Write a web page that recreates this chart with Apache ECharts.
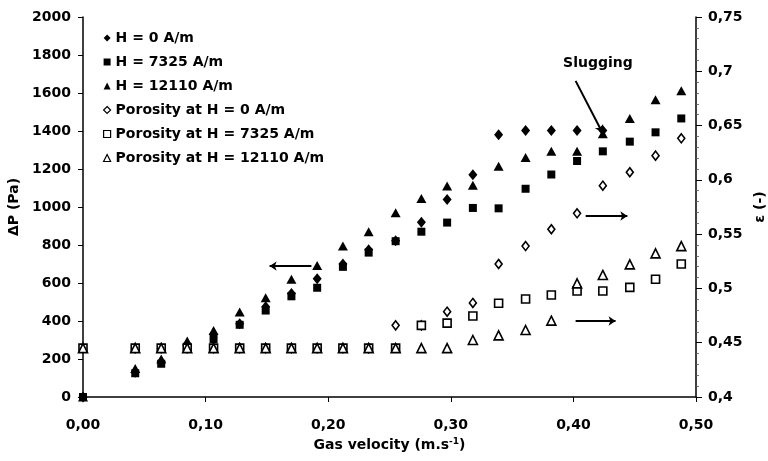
<!DOCTYPE html>
<html>
<head>
<meta charset="utf-8">
<script src="https://cdn.jsdelivr.net/npm/echarts@6/dist/echarts.min.js"></script>
<style>
  html, body { margin: 0; padding: 0; background: #fff; }
  #chart { width: 768px; height: 461px; }
</style>
</head>
<body>
<div id="chart"></div>
<script>
// gas velocity (m/s), shared by all series
var velocity = [0, 0.0426, 0.0638, 0.085, 0.1065, 0.1278, 0.149, 0.170, 0.191, 0.212, 0.233, 0.255,
                0.276, 0.297, 0.318, 0.339, 0.361, 0.382, 0.403, 0.424, 0.446, 0.467, 0.488];

// pressure drop (Pa)
var dpH0     = [0, 130, 185, 275, 330, 385, 475, 545, 622, 700, 775, 822, 920, 1040, 1170, 1380, 1402, 1402, 1402, 1402];
var dpH7325  = [0, 125, 175, 265, 305, 380, 455, 530, 575, 685, 760, 820, 870, 918, 995, 993, 1096, 1171, 1242, 1293, 1344, 1393, 1466];
var dpH12110 = [0, 150, 200, 295, 350, 448, 522, 620, 692, 795, 870, 970, 1045, 1110, 1115, 1215, 1261, 1293, 1293, 1385, 1466, 1564, 1612];

// porosity (-)
var epsH0     = [0.445, 0.445, 0.445, 0.445, 0.445, 0.445, 0.445, 0.445, 0.445, 0.445, 0.445, 0.466,
                 0.466, 0.4786, 0.4866, 0.5225, 0.539, 0.5545, 0.5692, 0.5946, 0.607, 0.6223, 0.6383];
var epsH7325  = [0.445, 0.445, 0.445, 0.445, 0.445, 0.445, 0.445, 0.445, 0.445, 0.445, 0.445, 0.445,
                 0.466, 0.468, 0.4746, 0.4863, 0.4903, 0.494, 0.4976, 0.4976, 0.501, 0.5084, 0.5225];
var epsH12110 = [0.445, 0.445, 0.445, 0.445, 0.445, 0.445, 0.445, 0.445, 0.445, 0.445, 0.445, 0.445,
                 0.445, 0.445, 0.4525, 0.4568, 0.4617, 0.4703, 0.5047, 0.5124, 0.5222, 0.5323, 0.539];

var names = ['H = 0 A/m', 'H = 7325 A/m', 'H = 12110 A/m',
             'Porosity at H = 0 A/m', 'Porosity at H = 7325 A/m', 'Porosity at H = 12110 A/m'];

// annotations in data units: [x1, y1, x2, y2]
var arrowLeft   = [0.1863, 689, 0.1522, 689];          // points to left axis
var arrowsRight = [[0.410, 0.5667, 0.444, 0.5667],     // point to right axis
                   [0.4018, 0.470, 0.4344, 0.470]];
var slugLine    = [0.4018, 1664, 0.4235, 1393];
var slugText    = [0.42, 1758];

var FONT = 'DejaVu Sans';

function pairs(ys) {
    return ys.map(function (y, i) { return [velocity[i], y]; });
}
function comma(v, d) {
    return String(parseFloat(v.toFixed(d))).replace('.', ',');
}

function filled(name, data, symbol, size) {
    return {
        name: name, type: 'scatter', yAxisIndex: 0,
        symbol: symbol, symbolSize: size,
        itemStyle: { color: '#000', opacity: 1 },
        data: pairs(data)
    };
}
function hollow(name, data, symbol, size) {
    return {
        name: name, type: 'scatter', yAxisIndex: 1,
        symbol: symbol, symbolSize: size,
        itemStyle: { color: '#fff', borderColor: '#000', borderWidth: 1.6, opacity: 1 },
        data: pairs(data)
    };
}
function seg(a) {
    return [{ coord: [a[0], a[1]] }, { coord: [a[2], a[3]] }];
}

var chart = echarts.init(document.getElementById('chart'));

var tickLabel = { color: '#000', fontFamily: FONT, fontWeight: 'bold', fontSize: 14 };
var axisLine = { show: true, lineStyle: { color: '#000', width: 1.5 } };
var arrowLine = {
    silent: true, animation: false,
    symbol: ['none', 'arrow'], symbolSize: 7,
    label: { show: false },
    emphasis: { disabled: true },
    lineStyle: { color: '#000', width: 2, type: 'solid', opacity: 1 }
};

var option = {
    animation: false,
    textStyle: { fontFamily: FONT },
    grid: { left: 83, right: 72, top: 17, bottom: 64, containLabel: false, outerBoundsMode: 'none' },
    legend: {
        data: names,
        orient: 'vertical',
        left: 98,
        top: 26,
        itemGap: 10,
        itemWidth: 7,
        itemHeight: 7,
        itemStyle: { borderWidth: 1.2 },
        textStyle: { color: '#000', fontFamily: FONT, fontWeight: 'bold', fontSize: 14, lineHeight: 14 }
    },
    xAxis: {
        type: 'value',
        min: 0, max: 0.5, interval: 0.1,
        name: 'Gas velocity (m.s{sup|-1})',
        nameLocation: 'middle',
        nameGap: 40,
        nameTextStyle: {
            color: '#000', fontFamily: FONT, fontWeight: 'bold', fontSize: 14,
            rich: { sup: { fontFamily: FONT, fontWeight: 'bold', fontSize: 9, verticalAlign: 'top', padding: [0, 0, 8, 0] } }
        },
        axisLine: axisLine,
        axisTick: { show: true, length: 5, lineStyle: { color: '#000', width: 1 } },
        axisLabel: Object.assign({ margin: 21, formatter: function (v) { return v.toFixed(2).replace('.', ','); } }, tickLabel),
        splitLine: { show: false }
    },
    yAxis: [{
        type: 'value',
        min: 0, max: 2000, interval: 200,
        name: 'ΔP (Pa)',
        nameLocation: 'middle',
        nameRotate: 90,
        nameGap: 58,
        nameTextStyle: { color: '#000', fontFamily: FONT, fontWeight: 'bold', fontSize: 14 },
        axisLine: axisLine,
        axisTick: { show: true, length: 5, lineStyle: { color: '#000', width: 1 } },
        axisLabel: Object.assign({ margin: 12, formatter: function (v) { return String(v); } }, tickLabel),
        splitLine: { show: false }
    }, {
        type: 'value',
        position: 'right',
        min: 0.4, max: 0.75, interval: 0.05,
        name: 'ε (-)',
        nameLocation: 'middle',
        nameRotate: 90,
        nameGap: 51,
        nameTextStyle: { color: '#000', fontFamily: FONT, fontWeight: 'bold', fontSize: 14 },
        axisLine: axisLine,
        axisTick: { show: true, length: 6, lineStyle: { color: '#000', width: 1 } },
        minorTick: { show: true, splitNumber: 5, length: 3, lineStyle: { color: '#555', width: 0.8 } },
        axisLabel: Object.assign({ margin: 12, formatter: function (v) { return comma(v, 2); } }, tickLabel),
        splitLine: { show: false }
    }],
    series: [
        filled(names[0], dpH0, 'diamond', [9, 11]),
        filled(names[1], dpH7325, 'rect', 8),
        filled(names[2], dpH12110, 'triangle', [10, 9]),
        hollow(names[3], epsH0, 'diamond', [7, 9]),
        hollow(names[4], epsH7325, 'rect', 8),
        hollow(names[5], epsH12110, 'triangle', [9, 9]),
        {
            name: 'annotLeft', type: 'scatter', yAxisIndex: 0, data: [], silent: true,
            markLine: Object.assign({}, arrowLine, {
                data: [seg(arrowLeft), seg(slugLine)]
            }),
            markPoint: {
                silent: true, symbol: 'circle', symbolSize: 1,
                itemStyle: { color: 'rgba(0,0,0,0)' },
                label: { show: true, position: 'inside', formatter: 'Slugging', color: '#000',
                         fontFamily: FONT, fontWeight: 'bold', fontSize: 14 },
                data: [{ coord: slugText }]
            }
        },
        {
            name: 'annotRight', type: 'scatter', yAxisIndex: 1, data: [], silent: true,
            markLine: Object.assign({}, arrowLine, {
                data: arrowsRight.map(seg)
            })
        }
    ]
};

chart.setOption(option);
</script>
</body>
</html>
